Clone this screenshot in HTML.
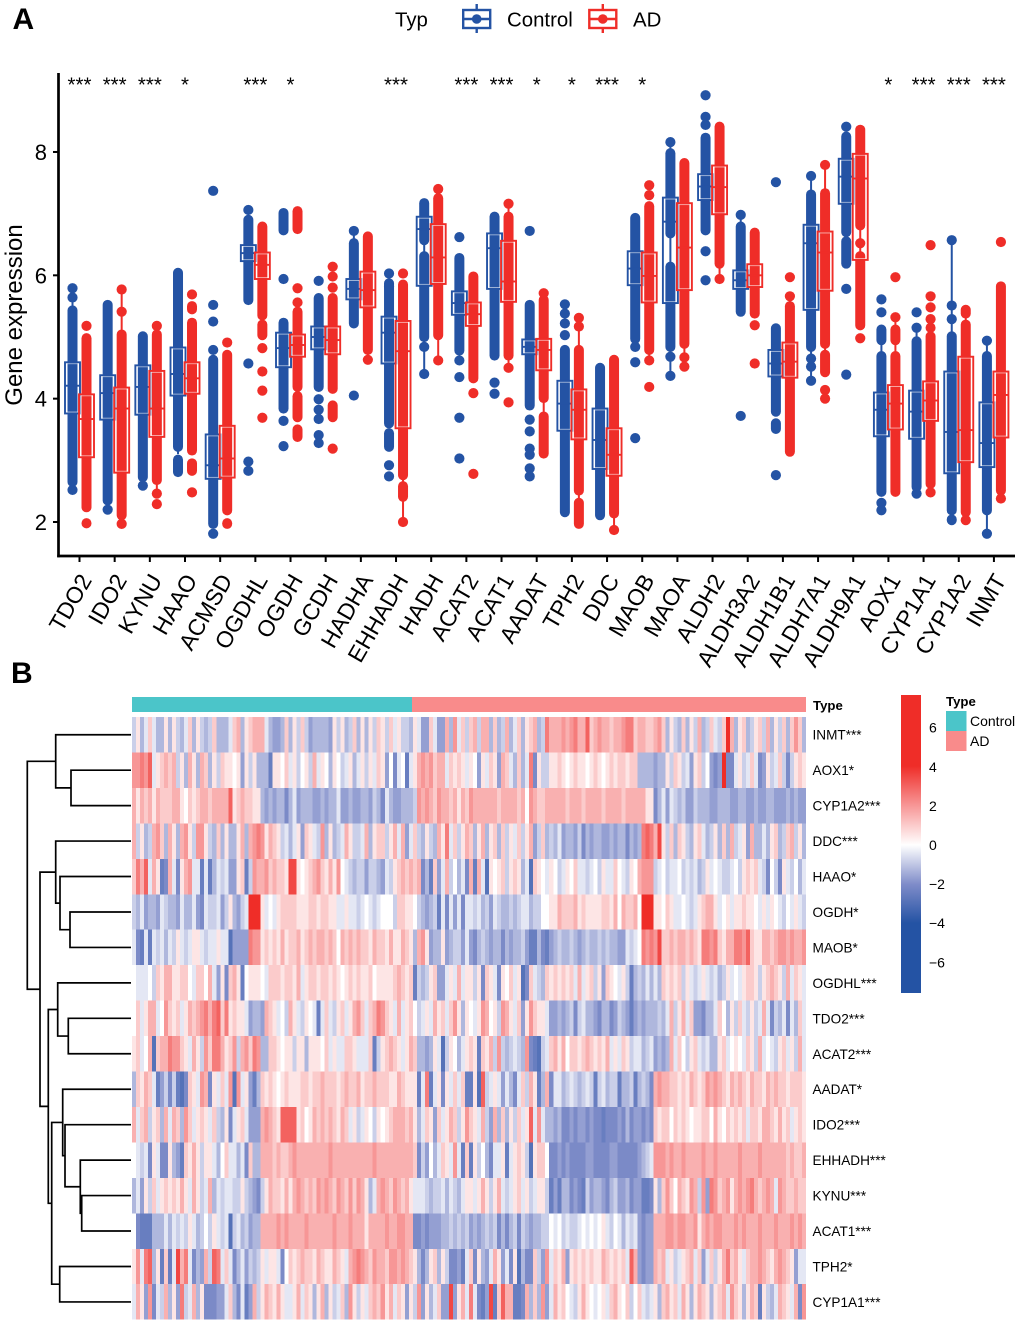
<!DOCTYPE html>
<html lang="en">
<head>
<meta charset="utf-8">
<title>Gene expression boxplot and heatmap</title>
<style>
html,body{margin:0;padding:0;background:#fff}
svg{display:block;font-family:"Liberation Sans",sans-serif}
</style>
</head>
<body>
<svg id="chart" xmlns="http://www.w3.org/2000/svg" width="1020" height="1325" viewBox="0 0 1020 1325">
  <defs>
    <linearGradient id="cbar" x1="0" y1="0" x2="0" y2="1">
      <stop offset="0" stop-color="#ef2d28"/>
      <stop offset="0.238" stop-color="#ef2d28"/>
      <stop offset="0.37" stop-color="#f79696"/>
      <stop offset="0.503" stop-color="#ffffff"/>
      <stop offset="0.635" stop-color="#7f8cc9"/>
      <stop offset="0.765" stop-color="#2453a4"/>
      <stop offset="1" stop-color="#2453a4"/>
    </linearGradient>
  </defs>
  <text x="12.5" y="29" font-size="30" font-weight="bold">A</text>
  <text x="11" y="683" font-size="30" font-weight="bold">B</text>

  <g>
    <text x="395" y="26.5" font-size="20.4">Typ</text>
    <g stroke="#2453a4" stroke-width="2.4" fill="none">
      <line x1="476.7" y1="4" x2="476.7" y2="33"/>
      <rect x="463.2" y="10" width="27" height="18" fill="#fff"/>
      <line x1="463.2" y1="19" x2="490.2" y2="19"/>
      <circle cx="476.7" cy="19" r="4.8" fill="#2453a4" stroke="none"/>
    </g>
    <text x="507" y="26.5" font-size="20.4">Control</text>
    <g stroke="#ef2d28" stroke-width="2.4" fill="none">
      <line x1="602.8" y1="4" x2="602.8" y2="33"/>
      <rect x="589.3" y="10" width="27" height="18" fill="#fff"/>
      <line x1="589.3" y1="19" x2="616.3" y2="19"/>
      <circle cx="602.8" cy="19" r="4.8" fill="#ef2d28" stroke="none"/>
    </g>
    <text x="633" y="26.5" font-size="20.4">AD</text>
  </g>

  <g id="boxMarks"></g>
  <g id="boxAxes"></g>
  <text transform="translate(22,315) rotate(-90)" text-anchor="middle" font-size="24">Gene expression</text>

  <g id="dendro" fill="none" stroke="#000" stroke-width="1.7"></g>
  <rect x="132" y="697" width="280" height="15" fill="#4bc5c9"/>
  <rect x="412" y="697" width="394" height="15" fill="#f98b8b"/>
  <text x="813" y="710" font-size="13.2" font-weight="bold">Type</text>
  <g id="heat" shape-rendering="crispEdges"></g>
  <g id="rowLabels"></g>

  <g>
    <rect x="901" y="695" width="20" height="298" fill="url(#cbar)"/>
    <g id="cbarTicks"></g>
  </g>
  <g>
    <text x="946" y="706" font-size="13.2" font-weight="bold">Type</text>
    <rect x="946" y="711" width="20.5" height="20" fill="#4bc5c9"/>
    <rect x="946" y="731" width="20.5" height="20" fill="#f98b8b"/>
    <text x="970" y="726" font-size="14">Control</text>
    <text x="970" y="746" font-size="14">AD</text>
  </g>
</svg>

<script>
const genes = ["TDO2","IDO2","KYNU","HAAO","ACMSD","OGDHL","OGDH","GCDH","HADHA","EHHADH","HADH","ACAT2","ACAT1","AADAT","TPH2","DDC","MAOB","MAOA","ALDH2","ALDH3A2","ALDH1B1","ALDH7A1","ALDH9A1","AOX1","CYP1A1","CYP1A2","INMT"];
const significance = ["***","***","***","*","","***","*","","","***","","***","***","*","*","***","*","","","","","","","*","***","***","***"];
const yTicks = [2,4,6,8];

const q1Control = [3.76,3.66,3.74,4.05,2.7,6.23,4.51,4.8,5.61,4.57,5.83,5.36,5.78,4.72,3.48,2.86,5.84,5.55,7.22,5.78,4.36,5.44,7.16,3.39,3.35,2.79,2.89];
const medControl = [4.21,4.09,4.19,4.4,2.92,6.36,4.82,5,5.78,5.07,6.75,5.55,6.44,4.84,3.92,3.33,6.11,6.87,7.44,5.92,4.57,6.52,7.6,3.82,3.79,3.46,3.28];
const q3Control = [4.59,4.38,4.54,4.83,3.42,6.49,5.07,5.17,5.94,5.33,6.95,5.74,6.68,4.96,4.29,3.84,6.39,7.26,7.64,6.08,4.79,6.82,7.89,4.1,4.13,4.44,3.94];
const q1AD = [3.05,2.8,3.38,4.08,2.72,5.94,4.68,4.72,5.48,3.52,5.86,5.18,5.57,4.46,3.34,2.75,5.56,5.76,6.99,5.81,4.34,5.75,6.25,3.5,3.64,2.97,3.37];
const medAD = [3.67,3.84,3.84,4.33,3.03,6.17,4.87,4.95,5.76,4.77,6.29,5.37,5.9,4.79,3.82,3.09,5.99,6.45,7.43,6,4.6,6.37,7.57,3.92,3.97,3.49,4.06];
const q3AD = [4.07,4.18,4.45,4.59,3.56,6.37,5.04,5.17,6.06,5.26,6.83,5.56,6.56,4.97,4.15,3.52,6.37,7.17,7.78,6.18,4.91,6.71,7.97,4.22,4.28,4.68,4.44];

const whiskersControl = [[2.6,5.79],[2.3,5.55],[2.59,5.06],[3.1,6.09],[1.92,4.68],[5.65,7.06],[3.79,5.28],[4.14,5.68],[5.17,6.72],[3.55,5.92],[4.4,7.22],[4.73,6.33],[4.65,7],[3.84,5.57],[2.11,4.84],[2.06,4.55],[4.84,6.98],[4.37,8.16],[6.68,8.28],[5.36,6.98],[3.74,5.19],[4.29,7.61],[6.14,8.3],[2.44,4.9],[2.46,5.15],[2.14,6.57],[1.81,4.94]];
const whiskersAD = [[2.19,5.03],[1.97,5.77],[2.46,5.09],[3.11,5.28],[2.14,4.76],[5.3,6.84],[4.14,5.46],[4.11,5.68],[4.63,6.68],[2,5.9],[4.62,7.4],[4.28,6.03],[4.5,7.16],[3.76,5.71],[1.92,5.31],[1.87,4.68],[4.62,7.17],[4.52,7.87],[5.94,8.46],[5.33,6.74],[3.09,5.66],[4.38,7.79],[5.14,8.41],[2.44,5.32],[2.48,5.29],[2.03,5.49],[2.38,5.87]];

/* runs of overlapping points: [high, low] for each gene */
const pointRunsControl = [
[[5.48,2.6]],[[5.57,2.3]],[[5.06,2.68]],[[6.09,3.17],[3.06,2.76]],[[4.68,1.92]],
[[6.95,5.55]],[[5.28,3.79],[7.06,6.68]],[[5.68,4.14]],[[6.57,5.17]],[[5.92,3.55],[3.49,3.17]],
[[7.22,6.52],[6.36,4.95]],[[6.33,4.73]],[[7,4.65]],[[5.57,3.84]],[[4.84,2.11]],
[[4.55,2.06]],[[6.98,4.92]],[[8.03,6.63],[6.19,4.79]],[[8.28,6.68]],[[6.84,5.36]],
[[5.19,3.74],[3.65,3.46]],[[7.36,4.79]],[[8.3,6.65],[6.6,6.14]],[[4.74,2.44],[5.17,4.9]],[[4.98,2.52]],
[[5.06,2.14],[2.09,1.98]],[[4.74,2.14]]];
const pointRunsAD = [
[[5.03,2.19],[2.03,1.93]],[[5.09,2.06]],[[5.09,2.63]],[[5.28,3.11],[5.55,5.4],[3,2.78]],[[4.76,2.14],[2.03,1.92]],
[[6.84,5.3],[5.25,4.98]],[[5.46,4.14],[4.09,3.65],[3.55,3.33],[7.09,6.7]],[[5.68,4.11],[3.94,3.65]],[[6.68,4.74]],[[5.9,2.71],[2.63,2.36]],
[[7.3,4.98]],[[6.03,4.28]],[[7,4.65]],[[5.65,3.96],[3.76,3.06]],[[4.84,2.46],[2.36,1.92]],
[[4.68,2.09]],[[7.17,4.74]],[[7.87,4.84]],[[8.46,6.14]],[[6.74,5.33]],
[[5.55,3.09]],[[7.38,4.84],[4.76,4.38]],[[8.41,6.76],[6.36,5.14]],[[4.74,2.44],[5.17,4.9]],[[5.06,2.57],[5.2,5.1]],
[[5.25,2.11],[5.49,5.33]],[[5.87,2.46]]];
/* isolated points for each gene */
const pointsControl = [
[5.79,5.64,2.52],[2.2],[2.59],[],[1.81,4.79,5.25,5.52,7.37],
[7.06,4.57,2.98,2.83],[5.94,3.64,3.23],[5.91,3.99,3.82,3.67,3.41,3.28],[6.72,4.05],[6.03,5.82,2.92,2.74],
[4.84,4.4],[6.62,4.62,4.35,3.69,3.03],[4.26,4.08],[6.72,3.66,3.47,3.19,3.09,2.87,2.74],[5.53,5.38,5.22,5.03],
[],[4.84,4.59,3.36],[8.16,4.68,4.37],[8.92,8.57,8.44,6.39,5.92],[6.98,3.72],
[7.51,2.76],[7.61,4.65,4.52,4.29],[8.41,5.78,4.39],[5.61,5.4,2.31,2.19],[5.4,5.15,2.46],
[6.57,5.51,5.29],[4.94,1.81]];
const pointsAD = [
[5.18],[5.77,5.41,1.97],[5.18,2.46,2.29],[5.69,2.48],[4.91],
[4.82,4.44,4.13,3.69],[5.79,5.56],[6.14,5.98,5.8,3.19],[4.63],[6.03,2],
[7.4,4.62],[4.09,2.78],[7.16,4.5,3.94],[5.71],[5.31,5.17],
[1.87],[7.46,7.3,4.62,4.19],[4.67,4.52],[5.94],[5.19,4.57],
[5.97,5.66],[7.79,4.14,4],[6.52,4.98],[5.97,5.32],[6.49,5.66,5.48,5.29,2.48],
[2.03],[6.54,2.38]];

const heatGenes = ["INMT***","AOX1*","CYP1A2***","DDC***","HAAO*","OGDH*","MAOB*","OGDHL***","TDO2***","ACAT2***","AADAT*","IDO2***","EHHADH***","KYNU***","ACAT1***","TPH2*","CYP1A1***"];
const colorbarTicks = [6,4,2,0,-2,-4,-6];

/* expression per sample bin, in half-units of z score */
const heatINMT = [-2,1,-3,-1,2,-1,-3,-3,1,-3,1,-2,-3,-1,2,-3,1,-2,-3,-2,2,-3,-3,-3,-1,2,3,-3,1,2,3,3,3,-1,-3,-4,-4,-3,2,-3,1,-2,2,-2,-4,-3,-3,-3,-3,-4,1,-2,1,-3,-2,2,-3,1,-3,1,-2,2,1,-2,2,-1,1,-2,-2,-3,1,-1,-4,-4,2,-1,-4,-4,3,-3,4,-1,2,-2,
2,3,-2,3,3,-3,2,-3,-2,3,-3,-1,2,-3,1,2,3,-3,-2,5,3,3,3,4,3,4,5,3,3,6,2,3,4,3,3,2,3,3,4,5,5,2,3,3,2,2,3,4,2,-3,1,-2,-3,2,-3,1,-2,3,-3,-2,2,-1,-2,2,8,3,-3,1,2,-3,-2,1,2,-2,3,-3,1,-2,2,-3,2,4,2,-3];
const heatAOX1 = [4,4,5,4,6,-1,1,2,3,2,3,-2,1,-3,3,1,-3,3,2,-3,1,-2,2,1,1,0,1,-4,1,-2,1,-3,-3,-3,-6,1,1,0,2,-1,1,-2,0,1,-2,3,-1,1,0,-3,1,0,-2,-1,1,-3,-1,1,-2,1,-1,2,1,-4,0,-5,-1,0,-6,-1,1,3,4,3,4,2,3,3,-1,2,1,2,1,-1,
1,0,-4,1,-1,2,1,-4,3,2,-1,-3,2,-3,-1,5,-5,1,-2,-2,1,1,2,1,0,1,2,1,1,0,1,2,1,0,1,2,1,2,2,1,2,2,-3,-3,-3,-3,-4,-3,-3,1,-2,2,1,-2,-1,-4,1,2,-2,0,-4,-5,-4,8,-5,-5,-1,1,-2,-1,2,-1,-5,-4,1,-2,-1,2,-2,-5,-2,1,2,1];
const heatCYP1A2 = [3,1,3,2,3,1,3,2,2,2,3,3,1,0,2,1,2,3,3,2,3,3,3,3,6,1,2,3,2,2,1,1,-3,-4,-3,-4,-3,-3,-5,-3,-1,-4,-3,-3,-3,-4,-4,-3,-4,-3,-3,-1,-4,-4,-3,-4,-4,-3,-3,-4,-2,-3,-5,-1,-3,-4,-4,-3,-3,-3,-2,4,3,4,3,2,4,3,3,2,3,1,3,2,
4,3,3,3,3,3,3,2,3,3,3,3,2,3,0,4,3,2,2,3,3,3,3,3,2,3,3,3,2,3,3,3,3,2,3,3,3,3,2,3,3,3,3,3,1,1,-5,-3,-1,-4,-1,-2,-3,-2,-4,-4,-2,-3,-3,-3,-4,-4,-3,-3,-3,-4,-4,-3,-3,-4,-4,-3,-4,-4,-3,-3,-4,-4,-4,-3,-4,-3,-4,-4];
const heatDDC = [3,-2,1,-3,-2,3,4,2,-3,3,1,-3,3,4,1,-2,4,4,1,-2,-3,2,-3,1,-3,-3,1,3,-3,3,4,5,4,1,3,2,1,-2,-1,-3,-1,1,-4,2,1,-1,-2,4,-3,1,-3,-2,-1,3,1,-2,-2,-1,3,-3,1,2,2,-2,1,3,-1,3,-4,-1,2,-2,-3,1,-2,-3,3,1,5,-1,2,-2,1,3,
2,-3,1,3,-3,1,2,-3,2,-2,1,-1,2,-2,1,3,-4,-2,2,-3,-2,-3,-1,-4,-3,-3,-4,-2,-5,-3,-4,-3,-3,-4,-4,-3,-4,-3,-3,-5,-3,-4,-3,5,6,5,3,7,1,-2,2,-3,2,1,-2,-3,1,2,-1,-3,-2,1,-3,2,-3,3,-2,-1,1,-4,3,-3,-3,-1,-3,1,2,-3,-2,2,3,-2,1,-3];
const heatHAAO = [2,5,3,6,-1,3,1,-6,-5,3,-1,-5,1,3,4,-1,-1,-6,-1,-6,-3,-1,-2,-1,-4,-4,1,2,-6,-2,4,3,3,4,2,3,2,2,1,7,7,1,0,1,2,3,4,2,1,3,1,4,0,-1,-2,-3,-2,-2,-4,-2,-2,-3,-4,-1,-2,1,2,3,2,3,2,3,-5,-3,-6,2,-4,-1,3,-2,0,-3,-1,-5,
3,-6,3,-1,-7,1,0,1,2,-2,1,2,1,-3,-1,-7,2,1,0,-1,1,0,-2,-1,1,0,2,-1,-1,-2,-1,0,-2,1,-1,-1,2,0,-1,-2,1,0,3,4,4,4,-2,-1,0,-2,-1,-1,0,-2,-1,-2,-1,-3,-2,1,-1,0,-1,-2,-2,-1,0,-2,1,2,1,2,-1,-2,-5,0,-2,-5,1,-1,-2,0,-3,-1];
const heatOGDH = [-2,-3,-1,-4,-3,-3,-4,-1,-2,-3,-3,-4,-1,-3,-3,-1,-4,-5,-1,-2,-2,-1,-4,-2,1,-3,-4,-2,-1,8,8,8,1,-1,0,-1,1,2,2,2,2,1,1,1,2,2,1,2,2,1,1,-1,-1,1,-1,-1,-2,-1,0,-1,-2,-1,0,0,0,-2,2,2,1,1,0,-2,-3,-4,-3,-2,-6,-1,-5,-1,-4,-1,-5,-1,
-1,-2,-1,-3,-2,-4,-1,-2,-3,-3,-2,-3,-2,-1,-1,-3,-2,-2,0,0,1,1,3,2,2,2,3,1,2,1,1,1,1,2,2,1,3,0,3,2,2,3,0,8,8,8,1,1,0,2,1,-1,-1,0,-1,-2,-1,1,2,3,3,1,-1,0,1,-1,1,1,2,1,1,0,-1,1,-1,1,0,-1,-2,0,-1,1,-1,-2];
const heatMAOB = [-1,-5,-6,-1,-6,-1,-2,-1,-3,-1,-2,1,-1,-2,-1,1,1,-1,-2,-1,-1,1,-1,-1,-7,-4,-4,-4,-4,5,4,4,1,2,1,2,1,3,1,2,2,3,1,2,3,2,3,3,2,3,2,0,3,2,3,2,3,2,2,1,3,2,2,1,3,1,1,3,2,1,-3,3,4,1,-4,-3,-3,1,-4,-3,-2,-2,-4,-1,
-4,-5,-3,-2,-3,-4,-3,-3,-5,-3,-4,-3,-3,-2,-4,-6,-6,-3,-5,-6,-4,-3,-2,-3,-3,-2,-3,-4,-3,-2,-3,-3,-2,-3,-2,-3,-3,-4,-4,-1,-2,-1,0,5,4,5,4,7,2,2,3,2,3,3,2,3,2,1,5,5,4,5,2,1,3,3,5,5,4,6,2,1,1,3,3,2,3,4,4,3,4,3,3,4];
const heatOGDHL = [0,-1,-1,-1,0,-2,2,1,3,3,1,1,2,2,0,-1,2,2,0,3,-1,-4,1,-5,2,3,1,-6,0,1,1,1,0,-1,2,2,2,1,2,2,1,3,-1,1,2,2,1,2,2,1,2,1,0,1,2,1,2,1,1,2,0,1,1,1,1,2,3,2,1,2,-6,-2,-3,-2,1,2,-4,-4,-1,1,-1,3,-1,1,
1,-2,1,-5,2,1,-1,-5,1,0,2,-1,1,-7,-5,2,-1,-2,-3,2,1,2,1,2,1,2,-1,3,-1,1,2,-2,1,-4,2,1,0,-1,1,-2,-6,-3,-2,-3,-1,-3,-1,-3,2,1,2,1,2,-2,1,-1,-2,-1,1,-1,-2,-1,-3,-2,1,-1,0,-1,1,2,2,1,-2,1,2,3,2,1,-2,3,-1,2,1,-1];
const heatTDO2 = [0,2,-1,1,3,3,-1,0,4,2,1,2,-1,1,3,2,3,4,5,3,5,6,2,5,1,2,1,1,-1,-4,-3,-3,-4,3,2,1,-1,0,-2,3,1,-1,-2,1,0,-1,-6,-1,2,-1,-2,1,2,-1,1,3,4,2,-1,2,3,5,4,2,1,-1,3,-1,1,2,0,-2,-1,1,-1,3,1,2,-1,2,4,1,-3,1,
0,-1,1,4,3,0,1,-2,4,3,1,-1,2,-4,1,4,2,1,1,-1,-4,-4,-3,-4,-3,-2,-5,-2,-1,-3,-3,-4,-5,-3,-3,-5,-4,-2,-3,-4,-6,-4,-3,-4,-3,-3,-3,-2,-3,-1,3,-2,1,3,-1,2,-4,-4,-5,-3,-3,-1,2,0,-3,1,-2,2,-1,-2,1,-2,-1,3,-1,-5,-2,-3,-1,-5,-1,-3,2,-1];
const heatACAT2 = [1,2,-1,0,3,-7,2,3,3,5,4,4,2,1,-1,3,1,-2,4,2,5,5,3,1,2,4,-2,3,4,2,5,4,-3,-3,2,2,1,0,1,1,-2,1,1,-3,1,1,1,0,2,-1,1,-1,-1,2,2,1,-1,-1,-1,2,-6,-2,1,2,3,2,1,-1,1,3,2,-3,-3,-4,-3,1,-1,-7,-2,1,0,-3,-1,1,
2,1,-6,2,1,3,-2,4,-2,-3,-2,-1,-2,-3,4,-5,-6,-7,-2,-1,2,3,1,3,0,2,2,1,2,3,2,1,2,1,3,-1,1,-1,2,1,-2,-1,-1,-3,-2,-1,-4,-3,-4,-3,3,-1,2,0,-2,1,2,-1,-2,-1,-3,-3,1,2,-1,0,1,0,-1,2,1,-2,3,-1,0,-1,-2,1,2,-1,1,-2,3,-1];
const heatAADAT = [-3,2,1,3,2,-1,-6,-4,-2,-5,-2,-6,-7,-5,2,1,-1,4,3,-5,1,-1,2,-1,4,-7,4,-1,1,-4,-6,-3,2,1,2,1,0,1,2,1,1,1,2,2,1,2,2,3,2,2,2,1,2,3,2,2,3,1,2,2,3,2,2,2,1,1,3,2,1,1,1,-6,-1,5,-6,-1,1,-5,1,-1,2,-1,2,-6,
-6,1,-7,6,-2,-1,1,-1,-4,-1,-3,-5,-1,2,-2,3,1,-6,-3,3,-5,-1,-1,-3,-2,-1,-2,-3,-2,-1,-2,-6,-2,-1,-3,-2,-2,-6,-3,-3,-2,-6,-3,-2,-3,-5,3,4,3,3,2,2,1,2,1,3,2,1,2,4,3,4,3,2,1,3,2,3,2,1,3,2,2,1,3,2,3,2,2,1,2,2,2,1];
const heatIDO2 = [3,-1,2,3,-2,1,2,-3,3,-1,3,2,-3,4,2,-1,1,2,1,-1,2,-2,-3,1,-5,-1,1,2,-1,-4,-4,-4,3,4,3,2,1,6,6,6,6,1,2,0,1,3,2,3,2,3,2,1,3,2,-1,1,-2,-1,1,0,-2,1,0,1,2,3,3,3,2,3,1,-3,-1,2,1,-4,2,-1,1,3,2,-2,1,4,
2,1,-1,3,-2,-4,3,-3,2,-3,1,-2,2,-1,1,6,-1,4,-1,-3,-3,-4,-3,-5,-5,-4,-5,-4,-4,-5,-4,-5,-5,-6,-5,-5,-5,-4,-5,-3,-5,-4,-4,-5,-4,-5,2,1,2,2,0,2,1,2,1,0,1,1,2,2,0,3,1,0,2,1,2,1,2,-1,2,2,1,3,3,2,1,3,1,2,-1,1,2,1];
const heatEHHADH = [0,-1,-2,-1,-5,1,-1,-5,-5,1,-3,-4,-6,2,1,3,1,-2,1,1,-1,-3,0,2,-1,-1,-3,-1,-5,2,-3,-3,3,3,3,2,3,2,2,3,4,3,3,3,3,3,3,3,3,4,3,3,3,3,3,3,3,3,3,3,4,3,3,3,3,3,3,3,3,3,2,-5,-2,-4,0,-3,-1,2,1,-1,4,-1,-6,2,
-6,1,-2,0,-3,-5,-1,-1,1,-6,-1,1,2,1,-2,-7,1,2,2,0,-5,-5,-4,-5,-4,-5,-5,-5,-5,-4,-4,-5,-5,-5,-5,-4,-4,-5,-5,-5,-5,-5,-4,-3,-2,-1,4,4,4,3,4,3,3,4,3,3,3,3,4,3,3,4,3,3,3,3,3,4,3,3,3,3,4,3,3,3,3,3,3,2,3,2,2,3];
const heatKYNU = [-3,-1,-4,1,-2,2,-1,1,2,1,2,1,3,1,-1,3,1,-2,-1,3,-3,-1,-2,-1,-1,-2,-2,1,-2,-3,-4,-5,-2,1,3,2,2,1,3,1,3,4,3,2,3,2,4,3,4,3,2,4,3,2,4,2,4,3,1,-3,-1,3,4,3,2,4,3,2,3,1,-1,-1,-1,-2,-3,-2,-2,-1,-3,-1,-2,-3,-1,1,
1,-1,1,3,1,-2,1,3,-1,-2,-1,1,2,-1,1,-2,-1,1,1,-2,-6,-4,-6,-3,-3,-5,-4,-5,-6,-2,-4,-3,-3,-4,-5,-3,-2,-4,-4,-3,-5,-4,-4,-6,-6,-5,1,-3,2,4,2,0,3,2,1,4,3,-2,4,-4,5,4,2,3,4,1,3,4,3,4,5,3,2,3,4,3,-1,4,3,2,2,3,2,2];
const heatACAT1 = [0,-5,-6,-6,-6,-3,-3,-3,-1,-3,-1,-2,-1,-2,1,-1,-3,-2,0,-2,1,-1,-2,-1,-7,-2,-1,-3,-2,-4,-3,-3,3,3,3,3,4,3,4,3,3,3,3,4,3,3,3,3,3,3,4,3,3,3,4,3,3,3,1,3,3,3,3,4,3,3,4,4,3,3,-5,-5,-4,-5,-4,-4,-4,-3,-3,-2,-3,-2,-3,-2,
-4,-3,-4,-3,-2,-3,-2,-5,-3,-5,-3,-2,-5,-2,-3,-4,-3,-3,-2,-2,0,-1,0,-2,-1,-2,-2,-1,0,-1,0,-1,0,1,-1,-2,0,-1,-3,-1,-2,-1,-4,-5,-4,-4,3,3,3,4,4,3,4,4,3,3,4,1,3,4,3,4,4,3,3,3,4,3,4,3,3,3,4,3,3,3,4,3,3,3,4,3,4,3];
const heatTPH2 = [1,4,-1,5,6,-3,1,-6,2,-6,-1,7,3,5,-1,-5,-3,-4,3,-2,6,5,-1,2,-1,-5,-3,-1,-4,-2,-3,-2,1,-1,1,1,-1,-5,0,2,1,2,3,2,2,1,3,2,1,1,3,2,1,-1,3,4,5,4,3,2,4,3,3,2,4,4,3,4,3,2,1,-3,-5,-3,1,2,-3,1,-2,-5,-5,-4,-6,-1,
2,-5,1,-3,-4,-1,3,1,-4,-1,-5,1,-7,-3,-5,-5,2,-2,-4,4,-1,2,1,3,-4,1,2,1,2,1,2,1,1,3,2,1,2,1,2,-1,6,3,-4,-5,-4,-4,3,2,3,-1,1,-2,-1,1,2,3,-1,2,-4,-1,2,-2,1,3,5,2,3,1,-1,2,3,3,4,3,2,1,3,4,3,2,1,-4,-1,-1];
const heatCYP1A1 = [-1,3,1,-4,4,-5,-1,-2,3,-3,1,-4,5,-2,-1,3,-3,1,-5,-5,-5,-4,-4,-1,2,-3,-5,-1,-6,-4,3,-2,1,3,2,1,3,1,-1,-1,1,3,-1,2,1,-3,1,3,-3,1,-2,-1,2,-3,4,1,-2,1,-1,2,3,2,4,1,3,-1,2,1,-4,1,-2,4,-4,1,-3,-1,2,-4,-4,7,-4,1,3,-1,
5,-1,-5,-6,-4,7,-6,2,6,3,3,-6,-6,-5,3,-3,2,-3,4,-4,-1,3,1,2,0,-1,-2,1,3,1,0,-1,0,1,-1,2,3,1,0,2,-2,0,2,-1,-2,-1,1,-3,2,3,1,2,-1,3,1,-3,1,3,2,1,-3,1,2,3,-1,4,2,1,-3,1,3,2,-6,1,-2,-3,-1,3,2,1,-1,3,-5,4];
const heatRows = [heatINMT,heatAOX1,heatCYP1A2,heatDDC,heatHAAO,heatOGDH,heatMAOB,heatOGDHL,heatTDO2,heatACAT2,heatAADAT,heatIDO2,heatEHHADH,heatKYNU,heatACAT1,heatTPH2,heatCYP1A1];

/* dendrogram merges: [child, child, merge distance]; child >= 0 is a row, child < 0 refers to merge -child-1 */
const merges = [[1,2,60],[0,-1,75.3],[5,6,61],[4,-3,71],[3,-4,75.3],[8,9,62.7],[7,-6,73.3],[13,14,49.3],[12,-8,50.7],[11,-9,66],[10,-10,68.3],[15,16,71.3],[-11,-12,79.3],[-7,-13,82.7],[-5,-14,91],[-2,-15,103.7]];

const NS = "http://www.w3.org/2000/svg";
const BLUE = "#2453a4", RED = "#ef2d28";
function make(tag, attrs, parent, text) {
  const el = document.createElementNS(NS, tag);
  for (const k in attrs) el.setAttribute(k, attrs[k]);
  if (text !== undefined) el.textContent = text;
  parent.appendChild(el);
  return el;
}
const yScale = v => 522 - (v - 2) * 61.67;
const xScale = i => 79.5 + i * 35.17;

const marks = document.getElementById("boxMarks");
const axes = document.getElementById("boxAxes");

function drawGroup(i, offset, color, runs, points, whisk, q1, med, q3, label) {
  const cx = xScale(i) + offset;
  const g = make("g", {}, marks);
  
  
  const w = make("line", {x1: cx, x2: cx, y1: yScale(whisk[0]), y2: yScale(whisk[1]), stroke: color, "stroke-width": 2}, g);
  
  
  runs.forEach(r => {
    const a = yScale(r[0]) + 3, b = yScale(r[1]) - 3;
    const l = make("line", {x1: cx, x2: cx, y1: a, y2: Math.max(a, b), stroke: color, "stroke-width": 10, "stroke-linecap": "round"}, g);
    
    
  });
  points.forEach(p => {
    const c = make("circle", {cx: cx, cy: yScale(p), r: 5.1, fill: color}, g);
    
    
  });
  const top = yScale(q3), h = yScale(q1) - yScale(q3);
  const halo = make("rect", {x: cx - 6.1, y: top + 1.4, width: 12.2, height: Math.max(0, h - 2.8), fill: "none", stroke: "#fff", "stroke-opacity": .6, "stroke-width": 1}, g);
  
  
  const b = make("rect", {x: cx - 7.5, y: top, width: 15, height: h, fill: "none", stroke: color, "stroke-width": 1.9}, g);
  
  
  const m = make("line", {x1: cx - 7.5, x2: cx + 7.5, y1: yScale(med), y2: yScale(med), stroke: color, "stroke-width": 1.9}, g);
  
  
}

genes.forEach((gene, i) => {
  drawGroup(i, -7, BLUE, pointRunsControl[i], pointsControl[i], whiskersControl[i], q1Control[i], medControl[i], q3Control[i], 'box-control');
  drawGroup(i, 7, RED, pointRunsAD[i], pointsAD[i], whiskersAD[i], q1AD[i], medAD[i], q3AD[i], 'box-ad');
  const tick = make("line", {x1: xScale(i), x2: xScale(i), y1: 556, y2: 562, stroke: "#000", "stroke-width": 2}, axes);
  
  
  const lx = xScale(i) + 13, ly = 580;
  const label = make("text", {transform: "translate(" + lx + "," + ly + ") rotate(-60)", "text-anchor": "end", "font-size": 23}, axes, gene);
  
  
  if (significance[i]) {
    const star = make("text", {x: xScale(i), y: 91.5, "text-anchor": "middle", "font-size": 20.5}, axes, significance[i]);
    
    
  }
});

const yAxisLine = make("line", {x1: 58.5, x2: 58.5, y1: 73, y2: 557.3, stroke: "#000", "stroke-width": 2.7}, axes);


const xAxisLine = make("line", {x1: 57.2, x2: 1015, y1: 556, y2: 556, stroke: "#000", "stroke-width": 2.7}, axes);


yTicks.forEach(t => {
  const tk = make("line", {x1: 53, x2: 58.5, y1: yScale(t), y2: yScale(t), stroke: "#000", "stroke-width": 2}, axes);
  
  
  const lb = make("text", {x: 47, y: yScale(t) + 8, "text-anchor": "end", "font-size": 22}, axes, t);
  
  
});

/* heatmap */
const heatX0 = 132, heatX1 = 806, heatY0 = 717, rowH = 35.45;
const mix = (a, b, t) => a.map((x, k) => Math.round(x + (b[k] - x) * t));
const heatColor = level => {
  const v = level / 2;
  const white = [255, 255, 255];
  const pos = v >= 0;
  const mid = pos ? [247, 150, 150] : [127, 140, 201];
  const end = pos ? [239, 45, 40] : [36, 83, 164];
  const t = Math.min(1, Math.abs(v) / (pos ? 4 : 4.8));
  const c = t < .5 ? mix(white, mid, t * 2) : mix(mid, end, (t - .5) * 2);
  return "rgb(" + c.join(",") + ")";
};
const heat = document.getElementById("heat");
const rowLabels = document.getElementById("rowLabels");
heatRows.forEach((row, r) => {
  const cw = (heatX1 - heatX0) / row.length;
  const y = heatY0 + r * rowH;
  row.forEach((val, c) => {
    const x = heatX0 + c * cw;
    const cell = make("rect", {x: x.toFixed(2), y: y.toFixed(2), width: (cw + .2).toFixed(2), height: rowH.toFixed(2), fill: heatColor(val)}, heat);
    
    
  });
  const label = make("text", {x: 812.5, y: y + rowH / 2 + 5, "font-size": 13.6}, rowLabels, heatGenes[r]);
  
  
});

/* colorbar ticks */
const cbarTicksG = document.getElementById("cbarTicks");
colorbarTicks.forEach(t => {
  const y = 845 - t * 19.55;
  const lab = make("text", {x: 929, y: y + 5, "font-size": 14}, cbarTicksG, t < 0 ? "\u2212" + (-t) : String(t));
  
  
});

/* dendrogram */
const dendro = document.getElementById("dendro");
const leafRight = 131;
const nodes = [];
const nodePos = id => id >= 0
  ? {x: leafRight, y: heatY0 + (id + .5) * rowH}
  : nodes[-id - 1];
merges.forEach(m => {
  const a = nodePos(m[0]), b = nodePos(m[1]);
  const x = leafRight - m[2];
  const seg = make("path", {d: "M" + a.x + " " + a.y + "H" + x + "V" + b.y + "H" + b.x}, dendro);
  
  
  nodes.push({x: x, y: (a.y + b.y) / 2});
});
</script>
</body>
</html>
